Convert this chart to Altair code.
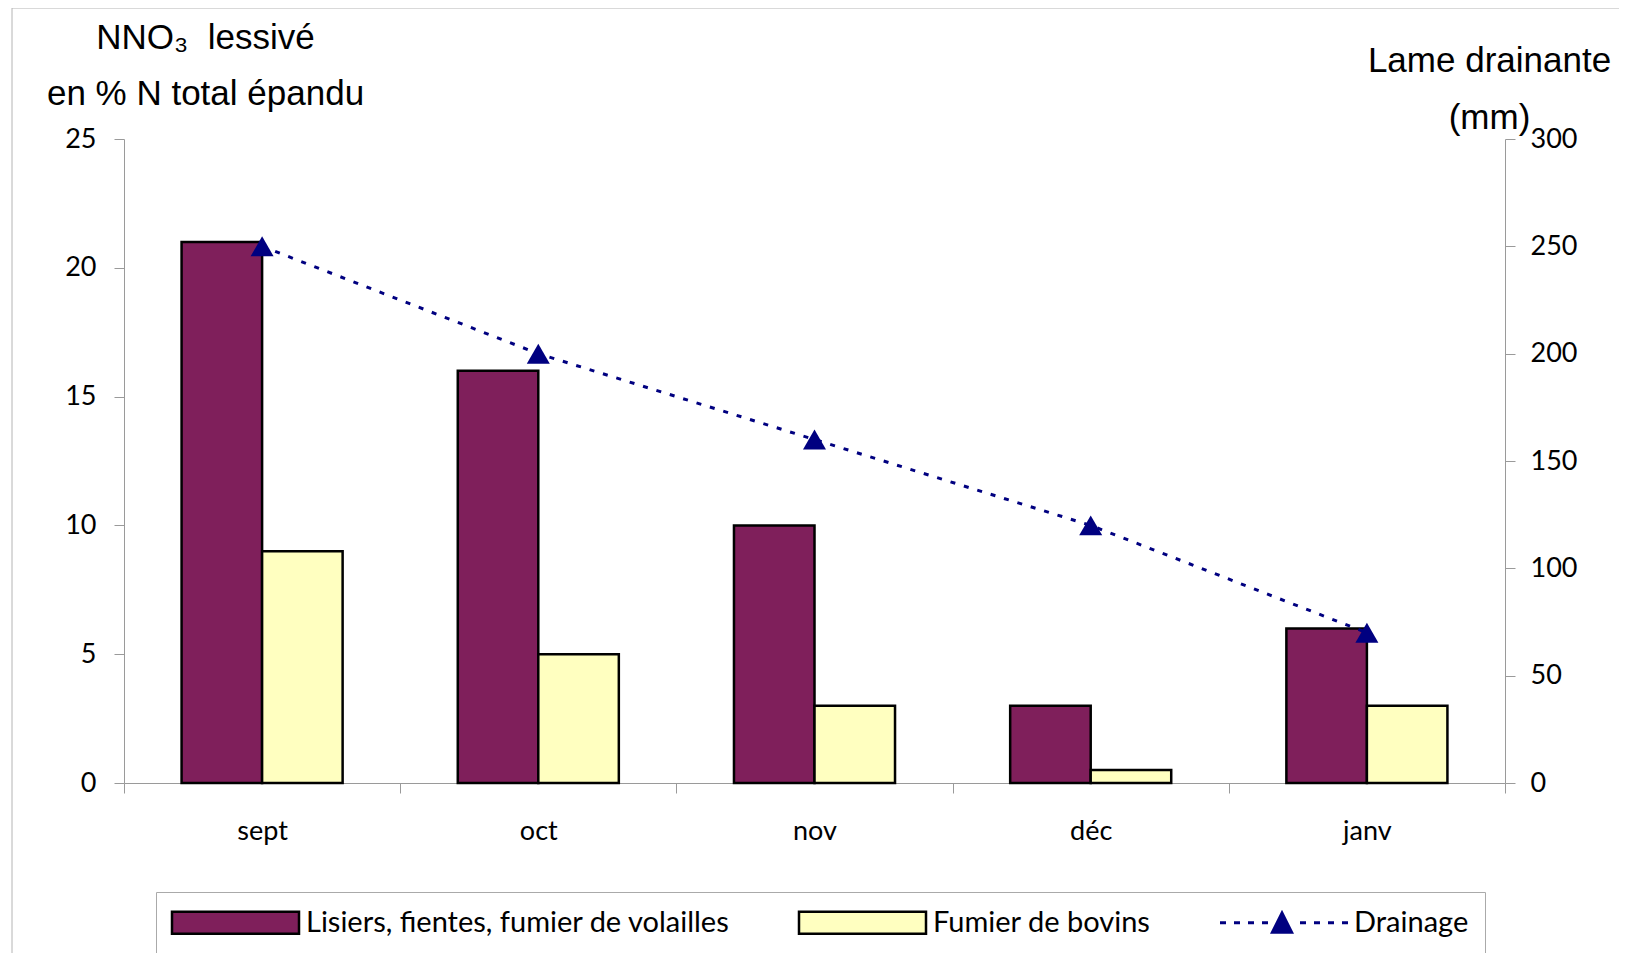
import altair as alt
import pandas as pd

months = ["sept", "oct", "nov", "déc", "janv"]
lisiers = [21, 16, 10, 3, 6]
bovins = [9, 5, 3, 0.5, 3]
drainage = [250, 200, 160, 120, 70]
series = ["Lisiers, fientes, fumier de volailles", "Fumier de bovins", "Drainage"]
colors = ["#7F1F5B", "#FFFFC0", "#000080"]
left_ticks = [0, 5, 10, 15, 20, 25]
right_ticks = [0, 50, 100, 150, 200, 250, 300]
left_title = ["NNO\u2083\u00a0 lessivé", "en % N total épandu"]
right_title = ["Lame drainante", "(mm)"]

bar_df = pd.DataFrame({
    "month": months * 2,
    "series": [series[0]] * len(months) + [series[1]] * len(months),
    "value": lisiers + bovins,
})
line_df = pd.DataFrame({"month": months, "drainage": drainage})
legend_df = pd.DataFrame({"series": series})
frame_df = pd.DataFrame({"a": [0]})

# legend symbol paths (unit coordinates, 10px per unit with symbolSize 400)
bar_path = "M-1.45,-1.1H11.25V1.1H-1.45Z"
dots = [-1.45, -0.05, 1.35, 2.75, 6.55, 7.95, 9.35, 10.75]
drain_path = " ".join(f"M{d},-0.15h0.6v0.3h-0.6Z" for d in dots) + " M4.75,-1.3L5.95,1.1L3.55,1.1Z"

FONT = "Lato"
TFONT = "Liberation Sans"
GRAY = "#9a9a9a"

fill_scale = alt.Scale(domain=series, range=colors)
legend = alt.Legend(
    title=None, orient="none", legendX=32, legendY=753, direction="horizontal",
    strokeColor="#aaaaaa", fillColor="white", padding=16,
    labelFont=FONT, labelFontSize=29, labelColor="black", labelLimit=700,
    symbolSize=400, symbolStrokeWidth=2.5, symbolOffset=0, labelOffset=105,
    columnPadding=64,
)

x_enc = alt.X(
    "month:N", sort=months,
    scale=alt.Scale(paddingInner=0, paddingOuter=0),
    axis=alt.Axis(
        title=None, labelAngle=0, tickBand="extent", tickSize=10, labelPadding=25,
        labelFont=FONT, labelFontSize=27, labelColor="black",
        domainColor=GRAY, tickColor=GRAY,
    ),
)

bars = alt.Chart(bar_df).mark_bar(stroke="black", strokeWidth=2.5).encode(
    x=x_enc,
    xOffset=alt.XOffset("series:N", sort=series[:2],
                        scale=alt.Scale(paddingOuter=0.715, paddingInner=0)),
    y=alt.Y(
        "value:Q", scale=alt.Scale(domain=[0, 25]),
        axis=alt.Axis(
            values=left_ticks, grid=False, title=left_title, titleAngle=0,
            titleX=81, titleY=-91, titleAlign="center", titleBaseline="alphabetic",
            titleFont=TFONT, titleFontSize=35, titleFontWeight="normal",
            titleLineHeight=56, titleColor="black",
            labelFont=FONT, labelFontSize=27, labelColor="black",
            tickSize=10, labelPadding=18, domainColor=GRAY, tickColor=GRAY,
        ),
    ),
    fill=alt.Fill("series:N", scale=fill_scale, legend=legend),
)

y_right = alt.Y(
    "drainage:Q", scale=alt.Scale(domain=[0, 300]),
    axis=alt.Axis(
        orient="right", values=right_ticks, grid=False, title=right_title, titleAngle=0,
        titleX=-16, titleY=-68, titleAlign="center", titleBaseline="alphabetic",
        titleFont=TFONT, titleFontSize=35, titleFontWeight="normal",
        titleLineHeight=57, titleColor="black",
        labelFont=FONT, labelFontSize=27, labelColor="black",
        tickSize=10, labelPadding=15, domainColor=GRAY, tickColor=GRAY,
    ),
)

line = alt.Chart(line_df).mark_line(color="#000080", strokeWidth=3, strokeDash=[5, 9]).encode(
    x=x_enc, y=y_right
)
points = alt.Chart(line_df).mark_point(
    shape="triangle-up", filled=True, color="#000080", size=530, opacity=1
).encode(x=x_enc, y=y_right)
right = alt.layer(line, points)

legend_layer = alt.Chart(legend_df).mark_point(filled=True, opacity=1).encode(
    fill=alt.Fill("series:N", scale=fill_scale, legend=legend),
    shape=alt.Shape("series:N", scale=alt.Scale(domain=series, range=[bar_path, bar_path, drain_path]), legend=legend),
    stroke=alt.Stroke("series:N", scale=alt.Scale(domain=series, range=["black", "black", "transparent"]), legend=legend),
).transform_filter("false")

frame_v = alt.Chart(frame_df).mark_rule(color="#b4b4b4", strokeWidth=1).encode(
    x=alt.value(-112), y=alt.value(-131), y2=alt.value(830)
)
frame_h = alt.Chart(frame_df).mark_rule(color="#b4b4b4", strokeWidth=1).encode(
    x=alt.value(-112), x2=alt.value(1500), y=alt.value(-131)
)

chart = alt.layer(frame_v, frame_h, bars, right, legend_layer).resolve_scale(
    y="independent"
).properties(
    width=1381, height=644,
    autosize=alt.AutoSizeParams(type="none"),
    padding={"left": 116, "top": 131, "right": 114, "bottom": 170},
).configure_view(strokeWidth=0)

chart.save("out.html", embed_options={"renderer": "svg", "actions": False})
